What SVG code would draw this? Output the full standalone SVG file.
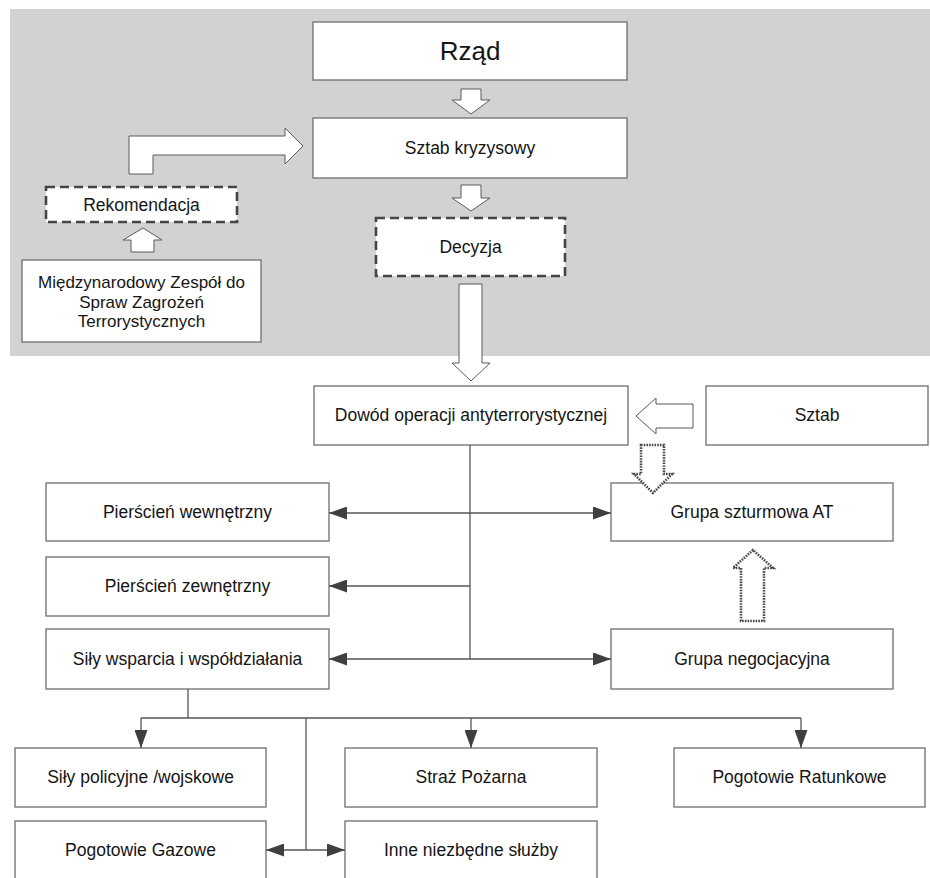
<svg xmlns="http://www.w3.org/2000/svg" width="930" height="878" viewBox="0 0 930 878">
<style>
.box{fill:#fff;stroke:#6e6e6e;stroke-width:1.3}
.dash{fill:#fff;stroke:#454545;stroke-width:2.6;stroke-dasharray:9,5}
.hollow{fill:#fff;stroke:#5a5a5a;stroke-width:1}
.dotted{fill:#fff;stroke:#4a4a4a;stroke-width:2.6;stroke-dasharray:1.6,1.1}
.line{fill:none;stroke:#555;stroke-width:1.3}
text{font-family:"Liberation Sans",Arial,sans-serif;font-size:17.5px;fill:#151515;text-anchor:middle}
</style>
<defs>
<marker id="ah" viewBox="0 0 18 13" markerUnits="userSpaceOnUse" markerWidth="18" markerHeight="13" refX="18" refY="6.5" orient="auto-start-reverse">
<path d="M0,0 L18,6.5 L0,13 z" fill="#3f3f3f"/>
</marker>
</defs>
<rect x="10" y="9" width="920" height="347" fill="#d1d2d4"/>

<g id="rzad"><rect class="box" x="313" y="22" width="314" height="58"/><text x="470" y="60" style="font-size:26px">Rząd</text></g>
<g id="sztab-kryzysowy"><rect class="box" x="313" y="118" width="314" height="60"/><text x="470" y="154">Sztab kryzysowy</text></g>
<g id="rekomendacja"><rect class="dash" x="46" y="187" width="191" height="35"/><text x="141.5" y="211">Rekomendacja</text></g>
<g id="decyzja"><rect class="dash" x="376" y="218" width="189" height="58"/><text x="470.5" y="253">Decyzja</text></g>
<g id="miedzynarodowy"><rect class="box" x="22" y="260" width="239" height="82"/>
<text x="141.5" y="288" style="font-size:17px">Międzynarodowy Zespół do</text>
<text x="141.5" y="307.5" style="font-size:17px">Spraw Zagrożeń</text>
<text x="141.5" y="327" style="font-size:17px">Terrorystycznych</text></g>

<g id="dowod"><rect class="box" x="314" y="386" width="314" height="59"/><text x="471" y="421">Dowód operacji antyterrorystycznej</text></g>
<g id="sztab"><rect class="box" x="706" y="386" width="222" height="59"/><text x="817" y="421">Sztab</text></g>
<g id="pierscien-wew"><rect class="box" x="46" y="483" width="283" height="58"/><text x="187.5" y="518">Pierścień wewnętrzny</text></g>
<g id="grupa-szturmowa"><rect class="box" x="611" y="483" width="282" height="58"/><text x="752" y="518">Grupa szturmowa AT</text></g>
<g id="pierscien-zew"><rect class="box" x="46" y="557" width="283" height="59"/><text x="187.5" y="592">Pierścień zewnętrzny</text></g>
<g id="sily-wsparcia"><rect class="box" x="46" y="629" width="283" height="60"/><text x="187.5" y="665">Siły wsparcia i współdziałania</text></g>
<g id="grupa-negocjacyjna"><rect class="box" x="611" y="629" width="282" height="60"/><text x="752" y="665">Grupa negocjacyjna</text></g>

<g id="sily-policyjne"><rect class="box" x="15" y="748" width="251" height="59"/><text x="140.5" y="783">Siły policyjne /wojskowe</text></g>
<g id="straz"><rect class="box" x="345" y="748" width="252" height="59"/><text x="471" y="783">Straż Pożarna</text></g>
<g id="ratunkowe"><rect class="box" x="674" y="748" width="251" height="59"/><text x="799.5" y="783">Pogotowie Ratunkowe</text></g>
<g id="gazowe"><rect class="box" x="15" y="821" width="251" height="62"/><text x="140.5" y="856">Pogotowie Gazowe</text></g>
<g id="inne"><rect class="box" x="345" y="821" width="252" height="62"/><text x="471" y="856">Inne niezbędne służby</text></g>

<g id="connectors">
<path class="line" d="M470,445 V659"/>
<path class="line" d="M329,513 H611" marker-start="url(#ah)" marker-end="url(#ah)"/>
<path class="line" d="M470,586 H329" marker-end="url(#ah)"/>
<path class="line" d="M329,659 H611" marker-start="url(#ah)" marker-end="url(#ah)"/>
<path class="line" d="M188,689 V718 M141,718 H801"/>
<path class="line" d="M141,718 V748" marker-end="url(#ah)"/>
<path class="line" d="M471,718 V748" marker-end="url(#ah)"/>
<path class="line" d="M801,718 V748" marker-end="url(#ah)"/>
<path class="line" d="M306,718 V850"/>
<path class="line" d="M266,850 H345" marker-start="url(#ah)" marker-end="url(#ah)"/>
<polygon class="hollow" points="461,89 481,89 481,100 490,100 471,114 452,100 461,100"/>
<polygon class="hollow" points="461,185 481,185 481,198 490,198 471,211 452,198 461,198"/>
<polygon class="hollow" points="459,284 482,284 482,363 490,363 471,381 452,363 459,363"/>
<polygon class="hollow" points="129,174 129,136 285,136 285,128 303,146 285,164 285,155 153,155 153,174"/>
<polygon class="hollow" points="131,252 131,240 123,240 143,228 162,240 154,240 154,252"/>
<polygon class="hollow" points="693,404 656,404 656,398 636,416 656,434 656,428 693,428"/>
<polygon class="dotted" points="641,445 664,445 664,474 672,474 653,493 634,474 641,474"/>
<polygon class="dotted" points="741,621 741,568 733,568 753,550 773,568 764,568 764,621"/>
</g>
</svg>
